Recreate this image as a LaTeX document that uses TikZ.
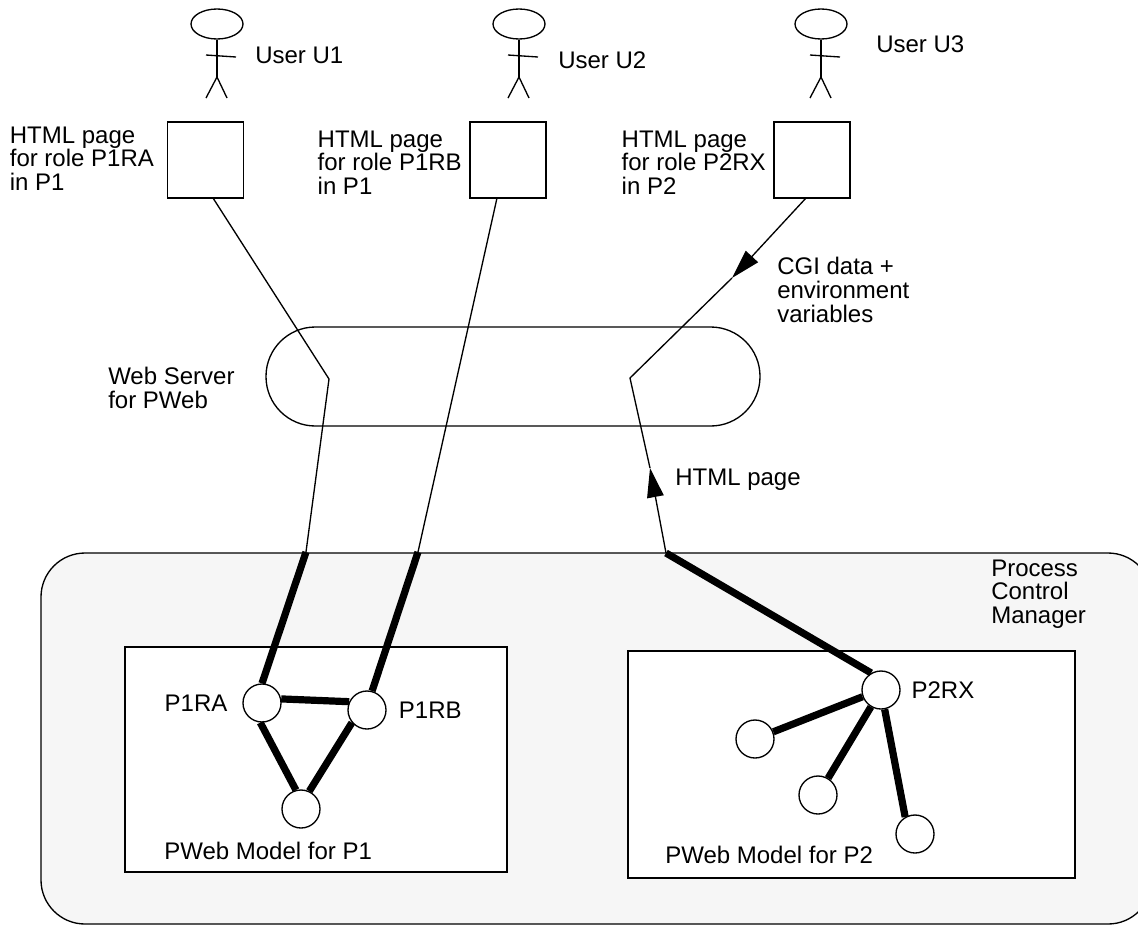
\documentclass[tikz,border=0pt]{standalone}
\usepackage{fontspec}
\setmainfont{Liberation Sans}
\usepackage{xcolor}
\usepackage{tikz}
\usetikzlibrary{positioning, arrows.meta}
\usetikzlibrary{shapes.geometric}
\definecolor{pcmFill}{HTML}{F6F6F6}
\tikzset{
  thinline/.style={draw=black, line width=1pt},
  thickline/.style={draw=black, line width=5.4pt},
  flowtip/.style={-{Triangle[length=22pt, width=12.5pt]}},
  lbl/.style={inner sep=0pt, align=left, font=\fontsize{18}{17.8}\selectfont},
  pagebox/.style={thinline, minimum size=57pt, inner sep=0pt},
  modelbox/.style={thinline, fill=white},
  rolenode/.style={circle, thinline, fill=white, minimum size=28.5pt, inner sep=0pt},
  userhead/.style={ellipse, thinline, minimum width=39pt, minimum height=22.5pt, inner sep=0pt},
}
\begin{document}
\begin{tikzpicture}[x=0.75pt, y=-0.75pt]
        \clip (0,0) rectangle (1138,925);
        \draw[thinline, fill=pcmFill, rounded corners=33pt] (41,553) rectangle (1152,924);
        \draw[thinline, rounded corners=37pt] (266,327) rectangle (760,426);
        \draw[modelbox] (125,647) rectangle (507,872);
        \draw[modelbox] (628,651) rectangle (1075,878);

        \foreach \n/\x in {1/217,2/519,3/821} {
          \node[userhead] (head\n) at (\x,24) {};
          \coordinate (hip\n) at (\x,77);
          \draw[thinline] (head\n) -- (hip\n);
          \draw[thinline] (\x-11,55) -- (\x+19,57);
          \draw[thinline] (\x-11,98) -- (hip\n) -- (\x+10,98);
        }
        \node[lbl, anchor=base west] (user1) at (255,63) {User U1};
        \node[lbl, anchor=base west] (user2) at (558,68) {User U2};
        \node[lbl, anchor=base west] (user3) at (876,52) {User U3};

        \node[pagebox] (page1) at (205.5,160) {};
        \node[pagebox] (page2) at (508,160) {};
        \node[pagebox] (page3) at (812,160) {};
        \node[lbl, left=9.5pt of page1, yshift=1pt] (text1) {HTML page\\for role P1RA\\in P1};
        \node[lbl, left=5.5pt of page2, yshift=-2pt] (text2) {HTML page\\for role P1RB\\in P1};
        \node[lbl, left=5.5pt of page3, yshift=-2pt] (text3) {HTML page\\for role P2RX\\in P2};

        \node[lbl, anchor=west] (server) at (108,388) {Web Server\\for PWeb};
        \node[lbl, anchor=west] (cgi) at (777,290) {CGI data +\\environment\\variables};
        \node[lbl, anchor=base west] (html) at (675,485) {HTML page};
        \node[lbl, anchor=west] (pcm) at (991,594) {Process\\Control\\Manager};

        \node[rolenode] (ra) at (262,703) {};
        \node[rolenode] (rb) at (367,710) {};
        \node[rolenode] (rc) at (301,809) {};
        \node[rolenode] (rx) at (881,690) {};
        \node[rolenode] (x1) at (755,739) {};
        \node[rolenode] (x2) at (818,795) {};
        \node[rolenode] (x3) at (915,834) {};
        \node[lbl, left=11pt of ra] (lblra) {P1RA};
        \node[lbl, right=9pt of rb] (lblrb) {P1RB};
        \node[lbl, right=8pt of rx] (lblrx) {P2RX};
        \node[lbl, anchor=base west] (model1) at (164,859) {PWeb Model for P1};
        \node[lbl, anchor=base west] (model2) at (665,863) {PWeb Model for P2};

        \coordinate (from1) at (213,198);
        \coordinate (from2) at (497,198);
        \coordinate (from3) at (806,198);
        \coordinate (bend1) at (329,379);
        \coordinate (bend3) at (630,378);
        \coordinate (port1) at (306,552);
        \coordinate (port2) at (418,552);
        \coordinate (port3) at (666,553);
        \coordinate (cgitip) at (732,278);
        \coordinate (htmltip) at (650,468);

        \draw[thinline] (from1) -- (bend1) -- (port1);
        \draw[thinline] (from2) -- (port2);
        \draw[thinline, flowtip] (from3) -- (cgitip);
        \draw[thinline] (cgitip) -- (bend3) -- (htmltip);
        \draw[thinline, flowtip] (port3) -- (htmltip);

        \draw[thickline] (port1) -- (ra.north);
        \draw[thickline] (port2) -- (rb.75);
        \draw[thickline] (port3) -- (rx.120);
        \draw[thickline] (ra.12) -- (rb.155);
        \draw[thickline] (ra.265) -- (rc.105);
        \draw[thickline] (rb.220) -- (rc.65);
        \draw[thickline] (rx.200) -- (x1);
        \draw[thickline] (rx) -- (x2);
        \draw[thickline] (rx) -- (x3.120);
      \end{tikzpicture}
\end{document}
